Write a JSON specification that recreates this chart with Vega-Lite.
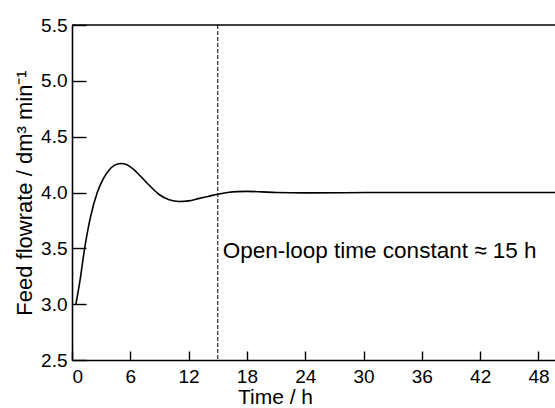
{
  "$schema": "https://vega.github.io/schema/vega-lite/v6.json",
  "width": 483,
  "height": 335,
  "autosize": {"type": "none"},
  "padding": {"left": 72, "top": 25, "right": 0, "bottom": 48},
  "background": "white",
  "config": {
    "view": {"stroke": null},
    "font": "Liberation Sans",
    "axis": {"grid": false, "labelFontSize": 19, "titleFontWeight": "normal"}
  },
  "datasets": {
    "response": [
      {"t": 0.4, "flow": 3.0},
      {"t": 0.8, "flow": 3.2},
      {"t": 1.3, "flow": 3.5},
      {"t": 1.9, "flow": 3.78},
      {"t": 2.6, "flow": 4.0},
      {"t": 3.2, "flow": 4.12},
      {"t": 3.8, "flow": 4.2},
      {"t": 4.4, "flow": 4.245},
      {"t": 5.0, "flow": 4.26},
      {"t": 5.6, "flow": 4.25},
      {"t": 6.3, "flow": 4.21},
      {"t": 7.0, "flow": 4.15},
      {"t": 8.0, "flow": 4.06},
      {"t": 9.0, "flow": 3.98},
      {"t": 10.0, "flow": 3.935},
      {"t": 11.0, "flow": 3.92},
      {"t": 12.0, "flow": 3.925},
      {"t": 13.0, "flow": 3.945},
      {"t": 14.0, "flow": 3.965},
      {"t": 15.0, "flow": 3.985},
      {"t": 16.0, "flow": 4.0},
      {"t": 17.0, "flow": 4.008},
      {"t": 18.0, "flow": 4.01},
      {"t": 19.5, "flow": 4.006},
      {"t": 21.0, "flow": 4.0},
      {"t": 24.0, "flow": 3.997},
      {"t": 28.0, "flow": 3.998},
      {"t": 32.0, "flow": 4.0},
      {"t": 40.0, "flow": 4.0},
      {"t": 49.7, "flow": 4.0}
    ],
    "marker": [
      {"t": 15, "flow": 3.5, "label": "Open-loop time constant ≈ 15 h"}
    ]
  },
  "layer": [
    {
      "data": {"name": "response"},
      "mark": {"type": "line", "color": "black", "strokeWidth": 1.6, "interpolate": "monotone"},
      "encoding": {
        "x": {
          "field": "t",
          "type": "quantitative",
          "scale": {"domain": [0, 49.7], "nice": false, "zero": false},
          "axis": {
            "orient": "bottom",
            "zindex": 1,
            "title": "Time / h",
            "titleFontSize": 21,
            "titleColor": "black",
            "titleAlign": "center",
            "titleX": 203,
            "titlePadding": 0,
            "values": [0, 1.5, 3, 4.5, 6, 7.5, 9, 10.5, 12, 13.5, 15, 16.5, 18, 19.5, 21, 22.5, 24, 25.5, 27, 28.5, 30, 31.5, 33, 34.5, 36, 37.5, 39, 40.5, 42, 43.5, 45, 46.5, 48, 49.5],
            "labelExpr": "datum.value % 6 === 0 ? format(datum.value, 'd') : ''",
            "labelColor": "black",
            "labelPadding": 16,
            "domainColor": "black",
            "domainWidth": 1.6,
            "tickSize": -9,
            "tickColor": "black",
            "tickWidth": 1.4,
            "tickDash": {"condition": {"test": "datum.value % 6 !== 0", "value": [5, 40]}, "value": [40, 0]}
          }
        },
        "y": {
          "field": "flow",
          "type": "quantitative",
          "scale": {"domain": [2.5, 5.5], "nice": false, "zero": false},
          "axis": {
            "orient": "left",
            "zindex": 1,
            "title": "Feed flowrate / dm³ min⁻¹",
            "titleFontSize": 22,
            "titleColor": "black",
            "titlePadding": 4,
            "values": [2.5, 2.75, 3, 3.25, 3.5, 3.75, 4, 4.25, 4.5, 4.75, 5, 5.25, 5.5],
            "labelExpr": "datum.value % 0.5 === 0 ? format(datum.value, '.1f') : ''",
            "labelColor": "black",
            "labelPadding": 19,
            "domainColor": "black",
            "domainWidth": 1.6,
            "tickSize": -14,
            "tickColor": "black",
            "tickWidth": 1.4,
            "tickDash": {"condition": {"test": "datum.value % 0.5 !== 0", "value": [8, 40]}, "value": [40, 0]}
          }
        }
      }
    },
    {
      "data": {"name": "marker"},
      "mark": {"type": "rule", "color": "black", "strokeWidth": 1, "strokeDash": [4, 2]},
      "encoding": {
        "x": {"field": "t", "type": "quantitative"}
      }
    },
    {
      "data": {"name": "marker"},
      "mark": {"type": "text", "align": "left", "baseline": "alphabetic", "dx": 5, "dy": 10, "fontSize": 22.5, "color": "black", "font": "Liberation Sans"},
      "encoding": {
        "x": {"field": "t", "type": "quantitative"},
        "y": {"field": "flow", "type": "quantitative"},
        "text": {"field": "label"}
      }
    },
    {
      "data": {"values": [{}]},
      "mark": {"type": "rule", "color": "black", "strokeWidth": 1.6},
      "encoding": {
        "y": {"datum": 5.5}
      }
    }
  ]
}
